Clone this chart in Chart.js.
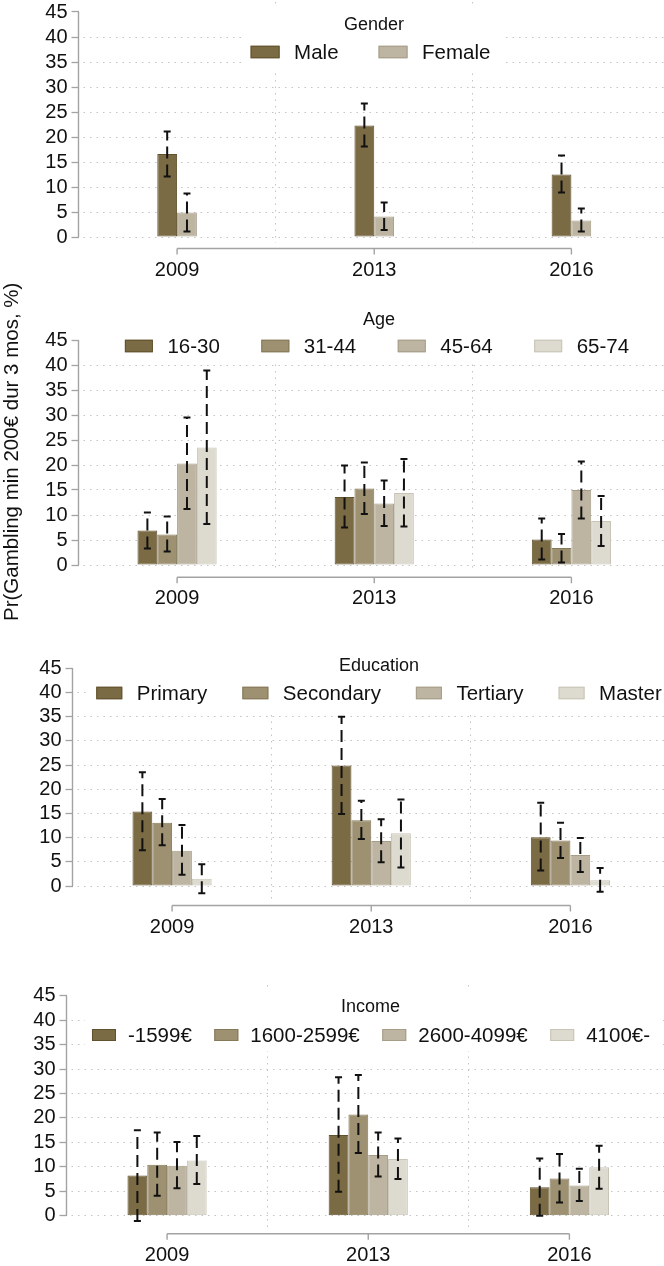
<!DOCTYPE html>
<html>
<head>
<meta charset="utf-8">
<script src="https://cdn.jsdelivr.net/npm/chart.js@4.4.1/dist/chart.umd.min.js"></script>
<style>
  html, body { margin: 0; padding: 0; background: #fff; }
  #page { position: relative; width: 664px; height: 1266px; overflow: hidden; background: #fff; }
  #page canvas { position: absolute; left: 0; }
</style>
</head>
<body>
<div id="page">
  <canvas id="gender"></canvas>
  <canvas id="age"></canvas>
  <canvas id="education"></canvas>
  <canvas id="income"></canvas>
</div>
<script>
// ---- data -------------------------------------------------------------
const years = ['2009', '2013', '2016'];
const yTickValues = [0, 5, 10, 15, 20, 25, 30, 35, 40, 45];
const yAxisTitle = 'Pr(Gambling min 200€ dur 3 mos, %)';

const genderLabels = ['Male', 'Female'];
const genderMean = [[16.6, 22.3, 12.5], [4.9, 4.1, 3.3]];
const genderLow  = [[12.1, 18.1, 8.9], [1.1, 1.4, 1.1]];
const genderHigh = [[21.1, 26.7, 16.3], [8.7, 6.9, 5.7]];

const ageLabels = ['16-30', '31-44', '45-64', '65-74'];
const ageMean = [[6.9, 13.6, 5.1], [6.1, 15.3, 3.4], [20.3, 12.3, 15.0], [23.5, 14.4, 8.8]];
const ageLow  = [[3.3, 7.5, 1.1], [2.7, 10.2, 0.5], [11.2, 7.8, 9.3], [8.2, 7.7, 3.8]];
const ageHigh = [[10.5, 19.9, 9.3], [9.7, 20.5, 6.2], [29.5, 16.9, 20.7], [38.9, 21.2, 13.8]];

const eduLabels = ['Primary', 'Secondary', 'Tertiary', 'Master'];
const eduMean = [[15.4, 24.9, 10.1], [13.1, 13.6, 9.4], [7.3, 9.3, 6.4], [1.5, 10.9, 1.2]];
const eduLow  = [[7.4, 14.9, 3.2], [8.4, 9.7, 5.8], [2.3, 4.9, 2.9], [-1.5, 3.8, -1.2]];
const eduHigh = [[23.5, 35.0, 17.2], [18.0, 17.6, 13.1], [12.6, 13.8, 9.9], [4.5, 17.9, 3.7]];

const incomeLabels = ['-1599€', '1600-2599€', '2600-4099€', '4100€-'];
const incomeMean = [[8.2, 16.5, 5.8], [10.4, 20.7, 7.6], [10.2, 12.4, 6.2], [11.3, 11.6, 9.9]];
const incomeLow  = [[-1.1, 4.9, 0.0], [4.1, 12.8, 2.7], [5.6, 8.0, 3.0], [6.5, 7.5, 5.5]];
const incomeHigh = [[17.5, 28.3, 11.7], [17.0, 28.8, 12.6], [15.1, 17.0, 9.6], [16.3, 15.8, 14.3]];

// ---- styling ----------------------------------------------------------
const FONT = '"Liberation Sans", Arimo, Arial, Helvetica, sans-serif';
const INK = '#111111';
const AXIS = '#a3a3a3';
const GRID = '#c4c4c4';
const NONE = 'rgba(0,0,0,0)';
const fills = ['#7b6b45', '#9d9171', '#bdb5a1', '#dddacf'];
const edges = ['#61512c', '#85795a', '#a69d88', '#c8c4b6'];
const CANVAS_W = 670;
const X_LABEL_H = 50;
const BAR_W = 19.8;

// dashed confidence intervals with solid caps, drawn on top of the bars
const errorBars = {
  id: 'errorBars',
  afterDatasetsDraw(chart) {
    const ctx = chart.ctx;
    const ys = chart.scales.y;
    chart.data.datasets.forEach((ds, di) => {
      chart.getDatasetMeta(di).data.forEach((bar, i) => {
        const x = bar.x;
        const yl = ys.getPixelForValue(ds.low[i]);
        const yh = ys.getPixelForValue(ds.high[i]);
        ctx.save();
        ctx.strokeStyle = '#111';
        ctx.lineWidth = 2;
        ctx.lineCap = 'butt';
        ctx.setLineDash([12, 6]);
        ctx.beginPath();
        ctx.moveTo(x, yl);
        ctx.lineTo(x, yh);
        ctx.stroke();
        ctx.setLineDash([]);
        ctx.beginPath();
        ctx.moveTo(x - 3.5, yl); ctx.lineTo(x + 3.5, yl);
        ctx.moveTo(x - 3.5, yh); ctx.lineTo(x + 3.5, yh);
        ctx.stroke();
        ctx.restore();
      });
    });
  }
};

// y axis line spanning the labelled range, and a detached x axis line
const axisFrame = {
  id: 'axisFrame',
  beforeDatasetsDraw(chart) {
    const ctx = chart.ctx;
    const area = chart.chartArea;
    const ys = chart.scales.y;
    const xs = chart.scales.x;
    ctx.save();
    ctx.strokeStyle = AXIS;
    ctx.lineWidth = 1.4;
    ctx.beginPath();
    ctx.moveTo(area.left, ys.getPixelForValue(yTickValues[0]));
    ctx.lineTo(area.left, ys.getPixelForValue(yTickValues[yTickValues.length - 1]));
    const xa = area.bottom + 5.5;
    const x0 = xs.getPixelForValue(0);
    const x1 = xs.getPixelForValue(years.length - 1);
    ctx.moveTo(x0, xa); ctx.lineTo(x1, xa);
    years.forEach((y, i) => {
      const px = xs.getPixelForValue(i);
      ctx.moveTo(px, xa); ctx.lineTo(px, xa + 6);
    });
    ctx.stroke();
    ctx.restore();
  }
};

// legend placed inside the plot region, on a white panel
const insideLegend = {
  id: 'insideLegend',
  beforeDatasetsDraw(chart, args, o) {
    const ctx = chart.ctx;
    const ds = chart.data.datasets;
    const off = o.offsetY;
    ctx.save();
    ctx.font = o.fontSize + 'px ' + FONT;
    const widths = ds.map(d => ctx.measureText(d.label).width);
    const total = widths.reduce((s, w) => s + o.boxW + o.boxGap + w, 0) + o.itemGap * (ds.length - 1);
    let x = o.rowX - total / 2;
    ctx.fillStyle = '#fff';
    ctx.fillRect(x - 7, o.bgTop - off, total + 20, o.bgBottom - o.bgTop);

    ctx.fillStyle = INK;
    ctx.textAlign = 'center';
    ctx.textBaseline = 'middle';
    ctx.font = o.titleSize + 'px ' + FONT;
    ctx.fillText(o.title, o.titleX, o.titleY - off);

    ctx.font = o.fontSize + 'px ' + FONT;
    ctx.textAlign = 'left';
    const ry = o.rowY - off;
    ds.forEach((d, k) => {
      ctx.fillStyle = d.backgroundColor;
      ctx.strokeStyle = d.borderColor;
      ctx.lineWidth = 1;
      ctx.fillRect(x, ry - o.boxH / 2, o.boxW, o.boxH);
      ctx.strokeRect(x + 0.5, ry - o.boxH / 2 + 0.5, o.boxW - 1, o.boxH - 1);
      ctx.fillStyle = INK;
      ctx.fillText(d.label, x + o.boxW + o.boxGap, ry + 1);
      x += o.boxW + o.boxGap + widths[k] + o.itemGap;
    });
    ctx.restore();
  }
};

function makePanel(p) {
  const cv = document.getElementById(p.id);
  const H = Math.round(p.areaBottom - p.top + X_LABEL_H);
  cv.width = CANVAS_W;
  cv.height = H;
  cv.style.top = p.top + 'px';

  const ppu = (p.y0 - p.y45) / 45;
  const yMax = (p.y0 - p.areaTop) / ppu;
  const yMin = -(p.areaBottom - p.y0) / ppu;
  const catW = (CANVAS_W - p.axisX) / years.length;
  const groupPct = (p.labels.length * BAR_W) / catW;

  const datasets = p.labels.map((lab, k) => ({
    label: lab,
    data: p.mean[k],
    low: p.low[k],
    high: p.high[k],
    backgroundColor: fills[p.shades[k]],
    borderColor: edges[p.shades[k]],
    borderWidth: 1,
    borderSkipped: false,
    categoryPercentage: groupPct,
    barPercentage: 1
  }));

  const tickFont = { family: FONT, size: 20 };
  const xAreaBottom = H - (p.areaBottom - p.top);

  return new Chart(cv, {
    type: 'bar',
    data: { labels: years, datasets },
    options: {
      responsive: false,
      animation: false,
      devicePixelRatio: 1,
      layout: { padding: { top: p.areaTop - p.top, left: 0, right: 0, bottom: 0 } },
      plugins: {
        legend: { display: false },
        tooltip: { enabled: false },
        insideLegend: Object.assign({ offsetY: p.top }, p.legend)
      },
      scales: {
        x: {
          grid: {
            offset: true,
            drawTicks: false,
            lineWidth: 1,
            color: c => (c.index === 0 ? NONE : GRID)
          },
          border: { display: false, dash: [1.5, 5] },
          ticks: { font: tickFont, color: INK, padding: 15, autoSkip: false, maxRotation: 0 },
          afterFit: s => { s.height = xAreaBottom; s.paddingLeft = 0; s.paddingRight = 0; }
        },
        y: {
          min: yMin,
          max: yMax,
          afterBuildTicks: s => { s.ticks = yTickValues.map(v => ({ value: v })); },
          grid: {
            lineWidth: 1,
            color: c => (c.tick && c.tick.value === 45 ? NONE : GRID),
            drawTicks: true,
            tickLength: 7,
            tickColor: AXIS,
            tickWidth: 1.3
          },
          border: { display: false, dash: [1.5, 5], dashOffset: -4.5 },
          ticks: { font: tickFont, color: INK, padding: 4, autoSkip: false, callback: v => String(v) },
          title: {
            display: !!p.showYTitle,
            text: yAxisTitle,
            color: INK,
            font: { family: FONT, size: 20.5 },
            padding: { top: 0, bottom: 0 }
          },
          afterFit: s => { s.width = p.axisX; s.paddingTop = 0; s.paddingBottom = 0; }
        }
      }
    },
    plugins: [axisFrame, insideLegend, errorBars]
  });
}

makePanel({
  id: 'gender', top: 0, areaTop: 2, y45: 12, y0: 237, areaBottom: 243, axisX: 78.5,
  labels: genderLabels, mean: genderMean, low: genderLow, high: genderHigh, shades: [0, 2],
  legend: { title: 'Gender', titleSize: 18, fontSize: 20.5, titleX: 374, titleY: 25,
            rowX: 370.5, rowY: 52, bgTop: 5, bgBottom: 72, boxW: 29, boxH: 12.5, boxGap: 14.5, itemGap: 40 }
});

makePanel({
  id: 'age', top: 270, areaTop: 332, y45: 340, y0: 565, areaBottom: 571.7, axisX: 78.5, showYTitle: true,
  labels: ageLabels, mean: ageMean, low: ageLow, high: ageHigh, shades: [0, 1, 2, 3],
  legend: { title: 'Age', titleSize: 18, fontSize: 20.5, titleX: 379, titleY: 320,
            rowX: 377, rowY: 346, bgTop: 300, bgBottom: 361, boxW: 28, boxH: 12.5, boxGap: 14.5, itemGap: 41.5 }
});

makePanel({
  id: 'education', top: 620, areaTop: 650, y45: 668.3, y0: 886, areaBottom: 900, axisX: 72.5,
  labels: eduLabels, mean: eduMean, low: eduLow, high: eduHigh, shades: [0, 1, 2, 3],
  legend: { title: 'Education', titleSize: 18, fontSize: 20.5, titleX: 379, titleY: 666,
            rowX: 379, rowY: 693, bgTop: 650, bgBottom: 713, boxW: 26, boxH: 12.5, boxGap: 14.5, itemGap: 35 }
});

makePanel({
  id: 'income', top: 960, areaTop: 985, y45: 995.7, y0: 1215.7, areaBottom: 1228.3, axisX: 66.5,
  labels: incomeLabels, mean: incomeMean, low: incomeLow, high: incomeHigh, shades: [0, 1, 2, 3],
  legend: { title: 'Income', titleSize: 18, fontSize: 20.5, titleX: 370.6, titleY: 1007,
            rowX: 371, rowY: 1035, bgTop: 990, bgBottom: 1051, boxW: 24, boxH: 12, boxGap: 12, itemGap: 22.5 }
});
</script>
</body>
</html>
